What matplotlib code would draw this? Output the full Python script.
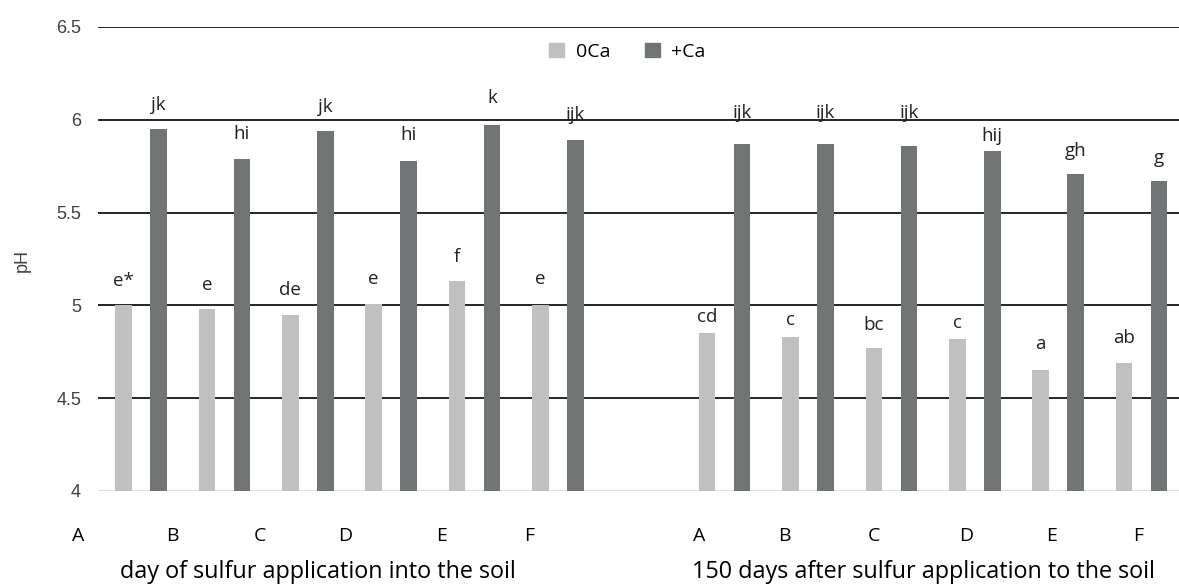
import numpy as np
import matplotlib
matplotlib.use("Agg")
import matplotlib.pyplot as plt
import matplotlib.transforms as mtransforms
from matplotlib.patches import Patch

# data
treatments = ["A", "B", "C", "D", "E", "F"]
day0_noCa = [5.00, 4.98, 4.95, 5.01, 5.13, 5.00]
day0_Ca = [5.95, 5.79, 5.94, 5.78, 5.97, 5.89]
day150_noCa = [4.85, 4.83, 4.77, 4.82, 4.65, 4.69]
day150_Ca = [5.87, 5.87, 5.86, 5.83, 5.71, 5.67]
day0_noCa_lbl = ["e*", "e", "de", "e", "f", "e"]
day0_Ca_lbl = ["jk", "hi", "jk", "hi", "k", "ijk"]
day150_noCa_lbl = ["cd", "c", "bc", "c", "a", "ab"]
day150_Ca_lbl = ["ijk", "ijk", "ijk", "hij", "gh", "g"]
group_titles = ["day of sulfur application into the soil",
                "150 days after sulfur application to the soil"]
yticks = [4, 4.5, 5, 5.5, 6, 6.5]

# gap (px) between bar top and letter baseline, placed by hand in the original
gap0_noCa = [19, 19, 20, 20, 19, 21]
gap0_Ca = [19, 20, 19, 21, 22, 20]
gap150_noCa = [11, 12, 18, 11, 21, 20]
gap150_Ca = [26, 26, 28, 10, 18, 18]

light = "#c0c0c0"
dark = "#707475"
font = "Open Sans"

fig = plt.figure(figsize=(11.79, 5.85), dpi=100)
ax = fig.add_axes([0.0829, 0.1607, 0.9171, 0.7932])

# two groups of six, one empty slot in between
x0 = np.arange(6)
x1 = np.arange(6) + 7
w = 0.2
off = 0.21

groups = [(x0, day0_noCa, day0_Ca, day0_noCa_lbl, day0_Ca_lbl, gap0_noCa, gap0_Ca),
          (x1, day150_noCa, day150_Ca, day150_noCa_lbl, day150_Ca_lbl, gap150_noCa, gap150_Ca)]
for x, lo, hi, llo, lhi, glo, ghi in groups:
    b1 = ax.bar(x - off, np.array(lo) - 4, w, bottom=4, color=light, zorder=3)
    b2 = ax.bar(x + off, np.array(hi) - 4, w, bottom=4, color=dark, zorder=3)
    for bars, labels, gaps in [(b1, llo, glo), (b2, lhi, ghi)]:
        for r, t, g in zip(bars, labels, gaps):
            ax.annotate(t, (r.get_x() + r.get_width() / 2, r.get_y() + r.get_height()),
                        xytext=(0, g * 0.72), textcoords="offset points", ha="center",
                        va="baseline", fontsize=13.5, family=font, color="#222222")

ax.set_ylim(4, 6.5)
ax.set_yticks(yticks, ["4", "4.5", "5", "5.5", "6", "6.5"])
ax.set_xticks([])
ax.set_xlim(-0.52, 12.45)
for y in yticks[1:]:
    ax.axhline(y, color="black", lw=1.2, zorder=1)
ax.axhline(4, color="#d9d9d9", lw=1.2, zorder=1)
for s in ax.spines.values():
    s.set_visible(False)
ax.tick_params(axis="y", length=0, pad=12, labelsize=13, labelcolor="#404040")
for t in ax.get_yticklabels():
    t.set_family("Liberation Sans")

# category labels sit a bit off the bars, as in the original
trans = mtransforms.blended_transform_factory(ax.transData, ax.transAxes)
tick_pos = [-0.75, 0.38, 1.42, 2.45, 3.60, 4.66, 6.69, 7.72, 8.79, 9.90, 10.92, 11.96]
for xp, lab in zip(tick_pos, treatments + treatments):
    ax.text(xp, -0.097, lab, transform=trans, ha="center", va="center",
            fontsize=14, family=font, clip_on=False)

ax.text(2.12, -0.175, group_titles[0], transform=trans, ha="center", va="center",
        fontsize=16.8, family=font)
ax.text(9.39, -0.175, group_titles[1], transform=trans, ha="center", va="center",
        fontsize=16.8, family=font)

fig.text(22 / 1179, 1 - 260 / 585, "pH", rotation=90, ha="center", va="center",
         fontsize=13, family="Liberation Sans", color="#404040")

handles = [Patch(color=light, label="0Ca"), Patch(color=dark, label="+Ca")]
leg = ax.legend(handles=handles, loc="center", bbox_to_anchor=(0.49, 0.946), ncol=2,
                frameon=False, prop={"family": font, "size": 14},
                handlelength=0.75, handleheight=0.75, columnspacing=1.8, handletextpad=0.6)

fig.savefig("out.png", dpi=100)
